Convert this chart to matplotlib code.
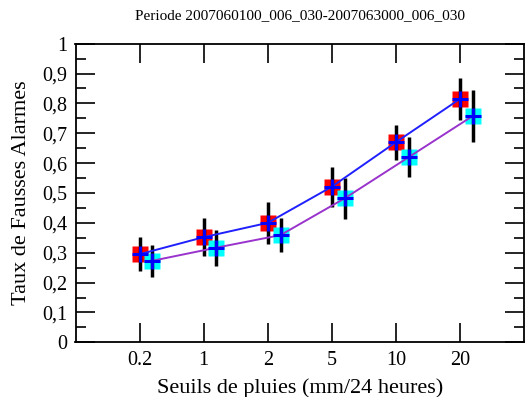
import matplotlib
matplotlib.use("Agg")
import matplotlib.pyplot as plt
import numpy as np
from matplotlib.ticker import MultipleLocator, FixedLocator

seuils = ["0.2", "1", "2", "5", "10", "20"]

taux_a = [0.295, 0.352, 0.400, 0.521, 0.670, 0.815]
err_a = [0.056, 0.063, 0.070, 0.067, 0.059, 0.071]

taux_b = [0.273, 0.317, 0.359, 0.482, 0.620, 0.758]
err_b = [0.053, 0.060, 0.058, 0.069, 0.066, 0.088]

titre = "Periode 2007060100_006_030-2007063000_006_030"


def main():
    plt.rcParams['font.family'] = ['Liberation Serif', 'DejaVu Serif']

    fig = plt.figure(figsize=(5.25, 3.97), dpi=100)
    ax = fig.add_axes([75.5 / 525, 1 - 342.3 / 397, (524 - 75.5) / 525, (342.3 - 43.7) / 397])

    x = np.arange(len(seuils))
    xa = x
    xb = x + 0.2

    # squares behind, error bars, lines, then the blue crosses
    ax.plot(xa, taux_a, 's', color='#ff0000', ms=11, mec='none', zorder=2)
    ax.plot(xb, taux_b, 's', color='#00ffff', ms=11, mec='none', zorder=2)
    ax.errorbar(xa, taux_a, yerr=err_a, fmt='none', ecolor='black', elinewidth=2.5, capsize=0, zorder=3)
    ax.errorbar(xb, taux_b, yerr=err_b, fmt='none', ecolor='black', elinewidth=2.5, capsize=0, zorder=3)
    ax.plot(xa, taux_a, '-', color='#2020ff', lw=1.4, zorder=4)
    ax.plot(xb, taux_b, '-', color='#9933cc', lw=1.4, zorder=4)
    ax.plot(xa, taux_a, '+', color='#0000ff', ms=11, mew=2.2, zorder=5)
    ax.plot(xb, taux_b, '+', color='#0000ff', ms=11, mew=2.2, zorder=5)

    ax.set_xlim(-1, 6)
    ax.set_ylim(0, 1)
    ax.xaxis.set_major_locator(FixedLocator(x))
    ax.set_xticklabels(seuils)
    ax.yaxis.set_minor_locator(MultipleLocator(0.05))
    yt = np.round(np.arange(0, 1.01, 0.1), 1)
    ax.set_yticks(yt)
    ax.set_yticklabels(['0' if v == 0 else ('1' if v == 1 else ('%.1f' % v).replace('.', ',')) for v in yt])

    ax.tick_params(which='major', direction='in', length=14, width=1.2, top=True, right=True,
                   labelsize=14.5, pad=6)
    ax.tick_params(which='minor', direction='in', length=7, width=1.2, top=False, right=True)
    ax.tick_params(axis='x', which='minor', bottom=False, top=False)
    for s in ax.spines.values():
        s.set_linewidth(1.3)

    ax.set_xlabel('Seuils de pluies (mm/24 heures)', fontsize=16, labelpad=6)
    ax.set_ylabel('Taux de Fausses Alarmes', fontsize=16, labelpad=8)
    fig.text(0.5714, 1 - 16 / 397, titre, fontsize=11, ha='center', va='center')

    fig.savefig('out.png', dpi=100)


if __name__ == "__main__":
    main()
